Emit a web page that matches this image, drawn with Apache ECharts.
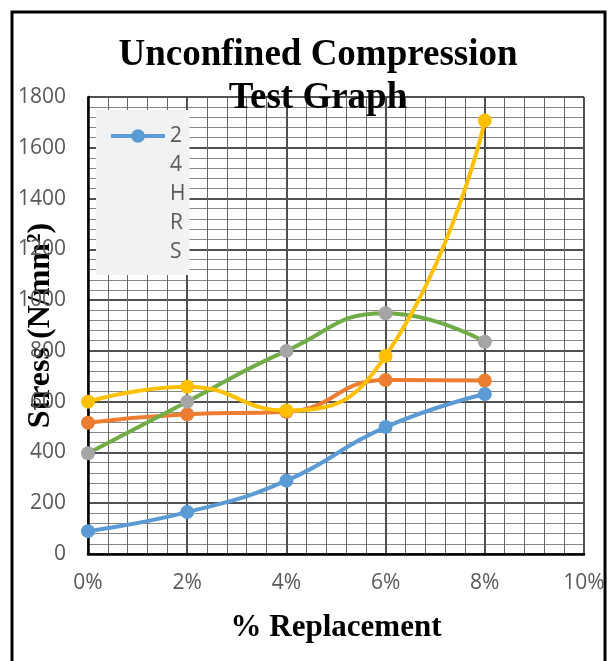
<!DOCTYPE html>
<html>
<head>
<meta charset="utf-8">
<script src="https://cdn.jsdelivr.net/npm/echarts@6/dist/echarts.min.js"></script>
<style>
html,body{margin:0;padding:0;background:#fff;}
#chart{width:609px;height:661px;}
</style>
</head>
<body>
<div id="chart"></div>
<script>
// Data
const replacement = [0, 2, 4, 6, 8];
const s24hrs = [90, 165, 289, 500, 630];
const sOrange = [517, 550, 560, 685, 683];
const sGrey = [397, 600, 800, 948, 836];
const sYellow = [600, 659, 565, 780, 1707];
const titleText = 'Unconfined Compression\nTest Graph';
const xName = '% Replacement';
const yName = 'Stress (N/mm²)';
const legendName = '24HRS';

function pairs(vals) { return replacement.map((x, i) => [x, vals[i]]); }

const chart = echarts.init(document.getElementById('chart'));
const tickFont = { fontFamily: '"Open Sans", "Noto Sans", sans-serif', fontSize: 21, color: '#595959' };
const serifBold = { fontFamily: '"Liberation Serif", "Times New Roman", serif', fontWeight: 'bold', color: '#000' };

function lineSeries(name, vals, color, lineColor) {
  return {
    name: name,
    type: 'line',
    data: pairs(vals),
    smooth: 0.5,
    symbol: 'circle',
    symbolSize: 14,
    showSymbol: true,
    itemStyle: { color: color },
    lineStyle: { color: lineColor || color, width: 4 },
    emphasis: { disabled: true },
    animation: false
  };
}

chart.setOption({
  animation: false,
  backgroundColor: '#fff',
  title: {
    text: titleText,
    left: 318,
    textAlign: 'center',
    top: 34,
    padding: 0,
    textStyle: Object.assign({ fontSize: 37, lineHeight: 43 }, serifBold)
  },
  legend: {
    data: [legendName],
    left: 96,
    top: 110,
    orient: 'vertical',
    itemWidth: 54,
    itemHeight: 17,
    itemGap: 0,
    padding: [15.5, 4, 12.5, 13],
    backgroundColor: '#f2f2f2',
    lineStyle: { width: 4 },
    formatter: function (n) { return n.split('').map(c => '{a|' + c + '}').join('\n'); },
    textStyle: Object.assign({}, tickFont, {
      padding: [0, 0, -116, 0],
      rich: { a: Object.assign({ lineHeight: 29 }, tickFont) }
    })
  },
  grid: { left: 88, top: 97, width: 496, height: 457, containLabel: false, outerBoundsMode: 'none' },
  xAxis: {
    type: 'value',
    min: 0, max: 10, interval: 2,
    name: xName,
    nameLocation: 'middle',
    nameGap: 58,
    nameMoveOverlap: false,
    nameTextStyle: Object.assign({ fontSize: 31 }, serifBold),
    axisLine: { show: true, onZero: false, lineStyle: { color: '#000', width: 2.5 } },
    axisTick: { show: false },
    axisLabel: Object.assign({ formatter: v => v + '%', margin: 19 }, tickFont),
    splitLine: { show: true, lineStyle: { color: '#505050', width: 2 } },
    minorTick: { show: false, splitNumber: 5 },
    minorSplitLine: { show: true, lineStyle: { color: '#666666', width: 1 } }
  },
  yAxis: {
    type: 'value',
    min: 0, max: 1800, interval: 200,
    name: yName,
    nameLocation: 'middle',
    nameGap: 31,
    nameMoveOverlap: false,
    nameTextStyle: Object.assign({ fontSize: 32 }, serifBold),
    axisLine: { show: true, lineStyle: { color: '#000', width: 2.5 } },
    axisTick: { show: false },
    axisLabel: Object.assign({ margin: 22, formatter: v => String(v) }, tickFont),
    splitLine: { show: true, lineStyle: { color: '#505050', width: 2 } },
    minorTick: { show: false, splitNumber: 5 },
    minorSplitLine: { show: true, lineStyle: { color: '#888888', width: 1 } }
  },
  graphic: [{
    type: 'rect',
    shape: { x: 12, y: 12, width: 593, height: 700 },
    style: { fill: 'none', stroke: '#000', lineWidth: 3 },
    silent: true
  }],
  series: [
    lineSeries(legendName, s24hrs, '#5B9BD5'),
    lineSeries('Series2', sOrange, '#ED7D31'),
    lineSeries('Series3', sGrey, '#A5A5A5', '#70AD47'),
    lineSeries('Series4', sYellow, '#FFC000')
  ]
});
</script>
</body>
</html>
